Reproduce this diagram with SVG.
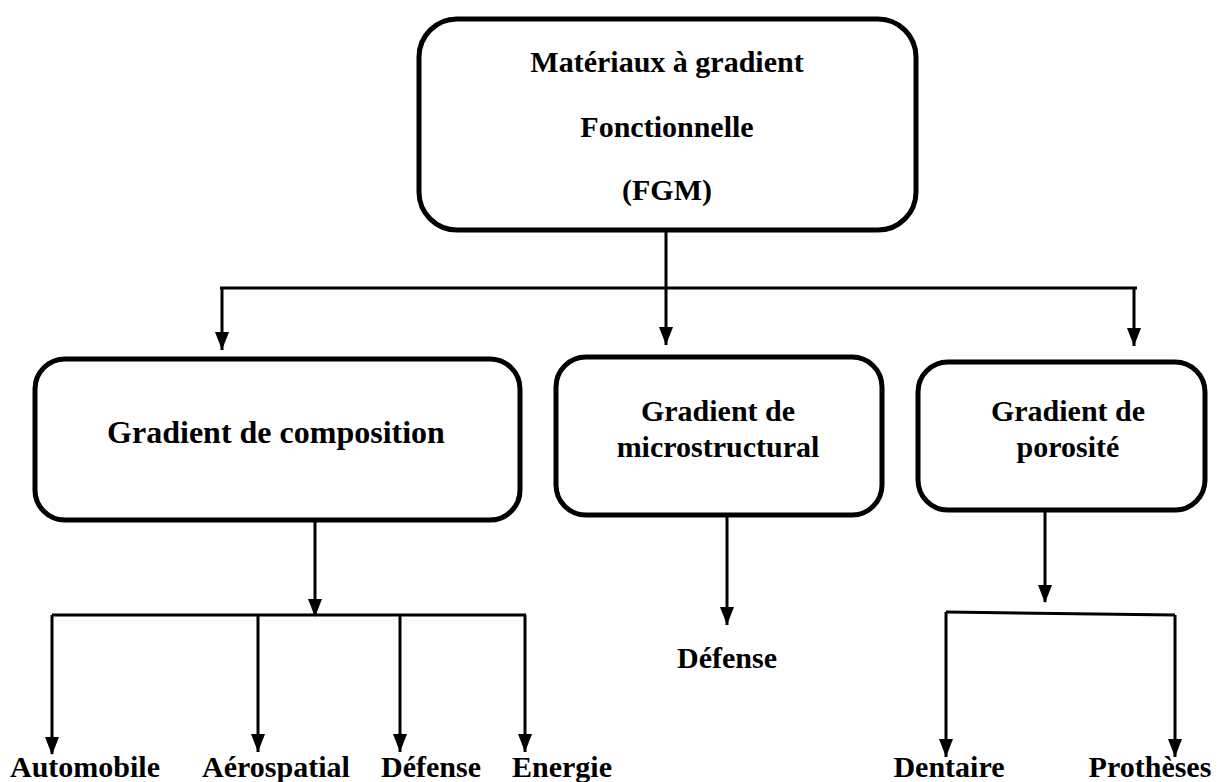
<svg xmlns="http://www.w3.org/2000/svg" width="1221" height="782" viewBox="0 0 1221 782">
<style>
.box{fill:#fff;stroke:#000;stroke-width:5}
.t{font-family:'Liberation Serif','DejaVu Serif',serif;font-weight:bold;font-size:30px;fill:#000;text-anchor:middle}
.c{fill:none;stroke:#000;stroke-width:3}
</style>
<rect width="1221" height="782" fill="#fff"/>
<g id="connectors">
<path class="c" d="M666,230 V288"/>
<path class="c" d="M220,288 H1137"/>
<path class="c" d="M222,288 V350"/>
<path class="c" d="M666,288 V345"/>
<path class="c" d="M1134,288 V346"/>
<path class="c" d="M315,520 V615"/>
<path class="c" d="M52,615 H526"/>
<path class="c" d="M52,615 V754"/>
<path class="c" d="M258,615 V752"/>
<path class="c" d="M400,615 V752"/>
<path class="c" d="M525,615 V752"/>
<path class="c" d="M727,515 V625"/>
<path class="c" d="M1045,510 V602"/>
<path class="c" d="M946,612 L1175,615"/>
<path class="c" d="M946,612 V757"/>
<path class="c" d="M1175,615 V757"/>
<g id="arrowheads" fill="#000">
<path d="M215,332 L229,332 L222,350 Z"/>
<path d="M659,327 L673,327 L666,345 Z"/>
<path d="M1127,328 L1141,328 L1134,346 Z"/>
<path d="M308,599 L322,599 L315,617 Z"/>
<path d="M45,737 L59,737 L52,755 Z"/>
<path d="M251,734 L265,734 L258,752 Z"/>
<path d="M393,734 L407,734 L400,752 Z"/>
<path d="M518,734 L532,734 L525,752 Z"/>
<path d="M720,607 L734,607 L727,625 Z"/>
<path d="M1038,585 L1052,585 L1045,603 Z"/>
<path d="M939,739 L953,739 L946,757 Z"/>
<path d="M1168,739 L1182,739 L1175,757 Z"/>
</g>
</g>
<g id="n-fgm">
<rect class="box" x="419" y="19" width="497" height="211" rx="38"/>
<text class="t" x="667" y="72">Matériaux à gradient</text>
<text class="t" x="667" y="137">Fonctionnelle</text>
<text class="t" x="667" y="200">(FGM)</text>
</g>
<g id="n-composition">
<rect class="box" x="35" y="359" width="485" height="161" rx="30"/>
<text class="t" x="276" y="443" style="font-size:32px">Gradient de composition</text>
</g>
<g id="n-micro">
<rect class="box" x="556" y="357" width="326" height="158" rx="30"/>
<text class="t" x="718" y="421">Gradient de</text>
<text class="t" x="718" y="457">microstructural</text>
</g>
<g id="n-poro">
<rect class="box" x="918" y="362" width="287" height="148" rx="30"/>
<text class="t" x="1068" y="421">Gradient de</text>
<text class="t" x="1068" y="457">porosité</text>
</g>
<g id="n-automobile"><text class="t" x="85" y="777">Automobile</text></g>
<g id="n-aero"><text class="t" x="276" y="777">Aérospatial</text></g>
<g id="n-defense1"><text class="t" x="431" y="777">Défense</text></g>
<g id="n-energie"><text class="t" x="562" y="777">Energie</text></g>
<g id="n-defense2"><text class="t" x="727" y="668">Défense</text></g>
<g id="n-dentaire"><text class="t" x="949" y="777">Dentaire</text></g>
<g id="n-protheses"><text class="t" x="1150" y="777">Prothèses</text></g>
</svg>
